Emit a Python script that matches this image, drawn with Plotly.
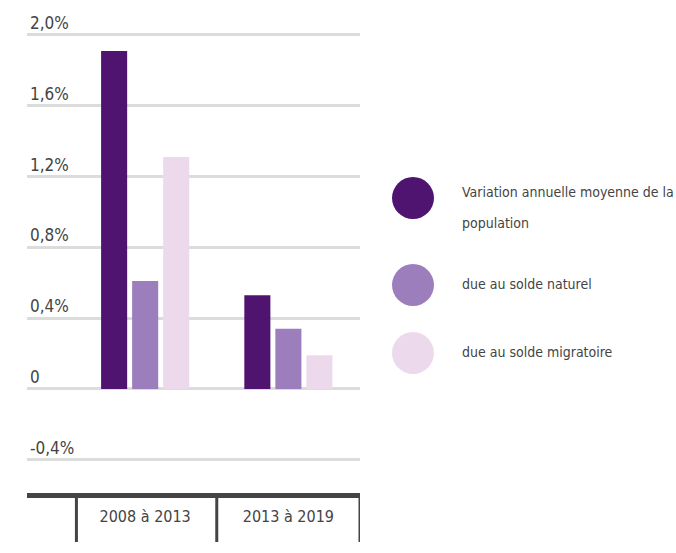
import plotly.graph_objects as go

categories = ["2008 à 2013", "2013 à 2019"]
series_names = ["Variation annuelle moyenne de la population", "due au solde naturel", "due au solde migratoire"]
variation_totale = [1.91, 0.53]
solde_naturel = [0.61, 0.34]
solde_migratoire = [1.31, 0.19]
colors = ["#4e1470", "#9d7ebd", "#ecdaec"]
tick_values = [-0.4, 0, 0.4, 0.8, 1.2, 1.6, 2.0]
tick_labels = ["-0,4%", "0", "0,4%", "0,8%", "1,2%", "1,6%", "2,0%"]

FONT = "DejaVu Sans Condensed"
TXT = "#444444"

fig = go.Figure()
for name, vals, col in zip(series_names, [variation_totale, solde_naturel, solde_migratoire], colors):
    fig.add_trace(go.Bar(x=categories, y=vals, name=name, marker=dict(color=col, line=dict(width=0)),
                         hoverinfo="skip", showlegend=False))

top, left, plot_w, plot_h = 10, 27, 333, 483
fig.update_layout(
    width=676, height=553,
    margin=dict(l=left, r=676 - left - plot_w, t=top, b=553 - top - plot_h),
    paper_bgcolor="white", plot_bgcolor="white",
    barmode="group", bargap=0.35, bargroupgap=0.16,
    font=dict(family=FONT, color=TXT, size=17),
    showlegend=False,
)
fig.update_yaxes(
    range=[-0.588, 2.141], tickvals=tick_values, ticktext=tick_labels,
    showgrid=True, gridcolor="#dcdcdc", gridwidth=3,
    zeroline=True, zerolinecolor="#dcdcdc", zerolinewidth=3,
    ticklabelposition="inside top", ticks="", showline=False, automargin=False,
    tickfont=dict(family=FONT, size=17, color=TXT),
)
fig.update_xaxes(
    range=[-0.825, 1.5], showgrid=False, zeroline=False, automargin=False,
    showline=True, linecolor="#444444", linewidth=5, ticks="",
    tickfont=dict(family=FONT, size=16, color=TXT),
    ticklabelstandoff=5,
)

# category dividers below the axis
for xv in [-0.48, 0.5, 1.5]:
    fig.add_shape(type="line", xref="x", yref="paper", x0=xv, x1=xv, y0=0, y1=-49 / plot_h,
                  line=dict(color="#444444", width=3))

def px(x):
    return (x - left) / plot_w
def py(y):
    return 1 - (y - top) / plot_h

legend_rows = [(198, [(192, "Variation annuelle moyenne de la"), (223, "population")]),
               (285, [(284, "due au solde naturel")]),
               (353, [(352, "due au solde migratoire")])]
for (cy, lines), col in zip(legend_rows, colors):
    fig.add_shape(type="circle", xref="paper", yref="paper",
                  xsizemode="pixel", ysizemode="pixel",
                  xanchor=px(413), yanchor=py(cy), x0=-21, x1=21, y0=-21, y1=21,
                  fillcolor=col, line=dict(width=0))
    for ly, t in lines:
        fig.add_annotation(xref="paper", yref="paper", x=px(460), y=py(ly), text=t,
                           showarrow=False, xanchor="left", yanchor="middle",
                           font=dict(family=FONT, size=14, color=TXT))

fig.write_html("out.html", config={"displayModeBar": False, "staticPlot": True},
               post_script="document.body.style.margin='0';")
